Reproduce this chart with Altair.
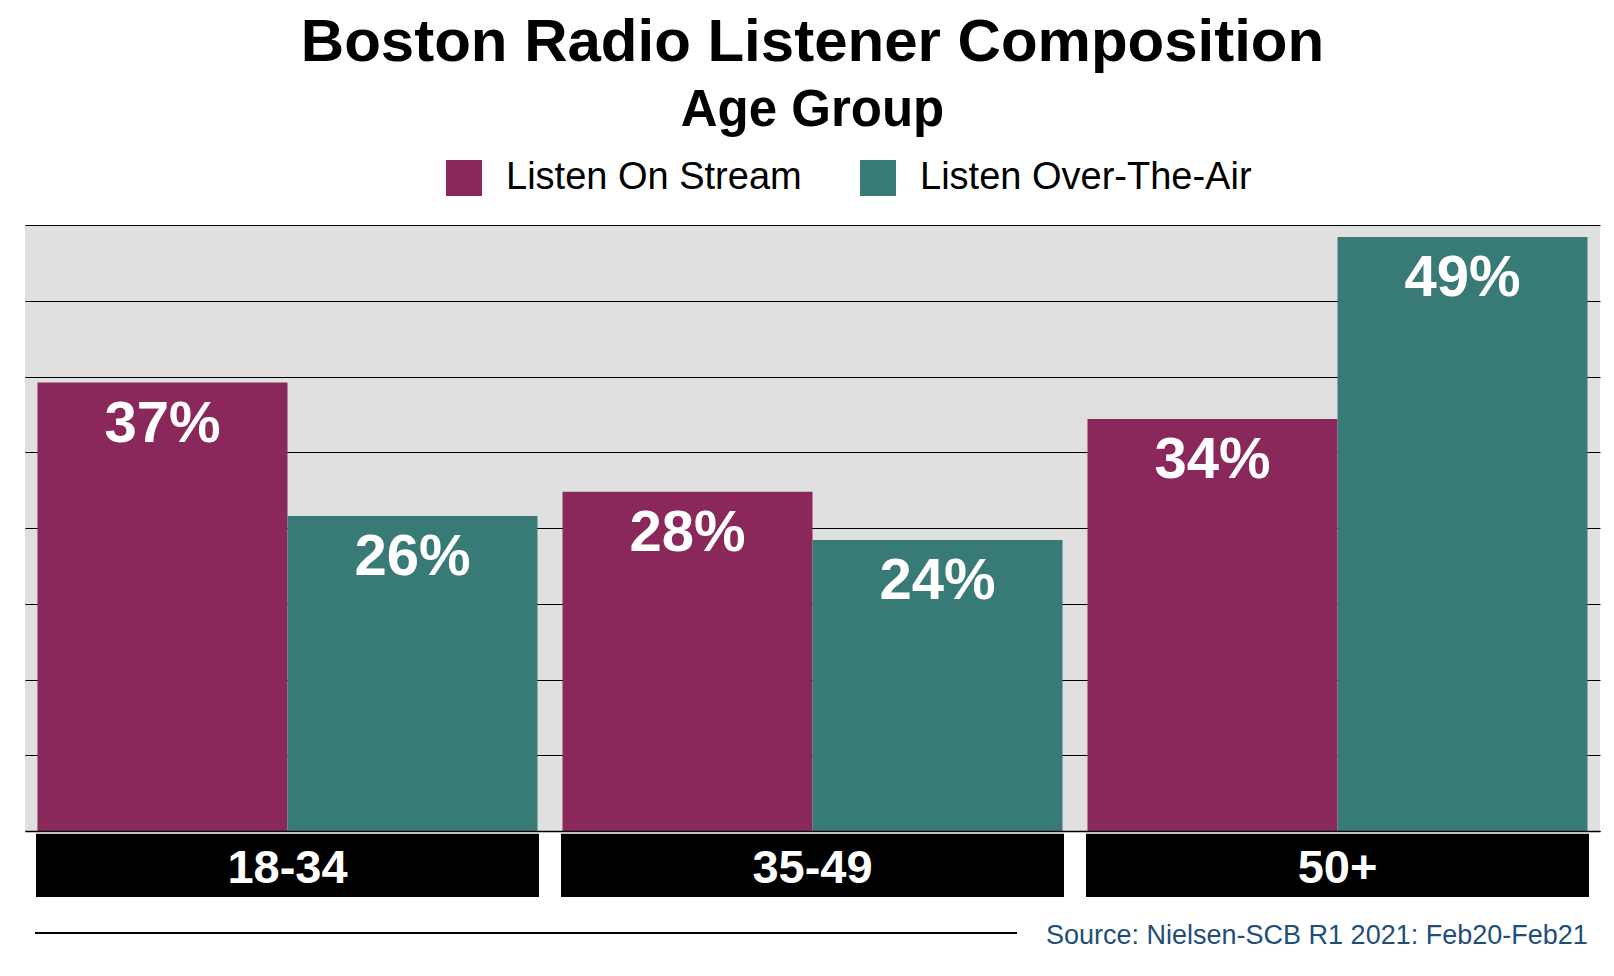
import altair as alt
import pandas as pd

groups = ["18-34", "35-49", "50+"]
series = ["Listen On Stream", "Listen Over-The-Air"]
stream_values = [37, 28, 34]
air_values = [26, 24, 49]
colors = ["#8A285C", "#387A76"]
title_text = "Boston Radio Listener Composition"
subtitle_text = "Age Group"
source_text = "Source: Nielsen-SCB R1 2021: Feb20-Feb21"
grid_values = [0, 6.25, 12.5, 18.75, 25, 31.25, 37.5, 43.75, 50]

rows = []
for g, s, a in zip(groups, stream_values, air_values):
    rows.append({"group": g, "series": series[0], "value": s, "label": f"{s}%"})
    rows.append({"group": g, "series": series[1], "value": a, "label": f"{a}%"})
df = pd.DataFrame(rows)
cat_df = pd.DataFrame({"group": groups})
src_df = pd.DataFrame({"text": [source_text]})

W, H = 1575, 606
FONT = "Liberation Sans, Arial, Helvetica, sans-serif"

xscale = alt.Scale(domain=groups, paddingInner=0.0476, paddingOuter=0.0238)
x_axis = alt.Axis(labels=False, ticks=False, title=None, domain=True,
                  domainColor="black", domainWidth=1.5, zindex=1, grid=False)
x_main = alt.X("group:N", scale=xscale, sort=groups, axis=x_axis)
xoff = alt.XOffset("series:N", scale=alt.Scale(domain=series), sort=series)
y_axis = alt.Axis(values=grid_values, labels=False, ticks=False, domain=False,
                  title=None, grid=True, gridColor="black", gridWidth=1, gridOpacity=1)
y_main = alt.Y("value:Q", scale=alt.Scale(domain=[0, 50], nice=False), axis=y_axis)

bars = alt.Chart(df).mark_bar(opacity=1).encode(
    x=x_main,
    xOffset=xoff,
    y=y_main,
    color=alt.Color(
        "series:N",
        scale=alt.Scale(domain=series, range=colors),
        legend=alt.Legend(
            orient="none", legendX=420, legendY=-66, direction="horizontal",
            title=None, symbolType="square", symbolSize=1296, symbolStrokeWidth=0,
            symbolOpacity=1, labelFontSize=38, labelFont=FONT, labelColor="black",
            labelOffset=23, columnPadding=57, padding=0, labelLimit=0,
        ),
    ),
)

labels = alt.Chart(df).mark_text(
    baseline="alphabetic", dy=59, fontSize=58, fontWeight="bold",
    color="white", font=FONT,
).encode(
    x=x_main, xOffset=xoff, y=y_main, text="label:N",
)

boxes = alt.Chart(cat_df).mark_rect(color="black", stroke="black", strokeWidth=3).encode(
    x=x_main, y=alt.value(H + 4.2), y2=alt.value(H + 64.5),
)

cat_labels = alt.Chart(cat_df).mark_text(
    baseline="alphabetic", fontSize=47, fontWeight="bold", color="white", font=FONT,
).encode(x=x_main, y=alt.value(H + 52), text="group:N")

rule = alt.Chart(src_df).mark_rule(color="black", strokeWidth=2).encode(
    x=alt.value(10), x2=alt.value(992), y=alt.value(H + 102),
)

src = alt.Chart(src_df).mark_text(
    align="left", baseline="alphabetic", fontSize=27, color="#1F4E79", font=FONT,
).encode(x=alt.value(1021), y=alt.value(H + 112.7), text="text:N")

chart = alt.layer(bars, labels, boxes, cat_labels, rule, src).properties(
    width=W, height=H,
    title=alt.Title(
        text=title_text, subtitle=subtitle_text, anchor="middle",
        font=FONT, fontSize=60, fontWeight="bold", color="black",
        subtitleFont=FONT, subtitleFontSize=51, subtitleFontWeight="bold",
        subtitleColor="black", subtitlePadding=12, offset=22,
    ),
    padding={"left": 17, "top": 217, "right": 6, "bottom": 130},
    autosize="none",
).configure_view(fill="#E0E0E0", stroke=None)

chart.save("out.html", embed_options={"renderer": "svg", "actions": False})
